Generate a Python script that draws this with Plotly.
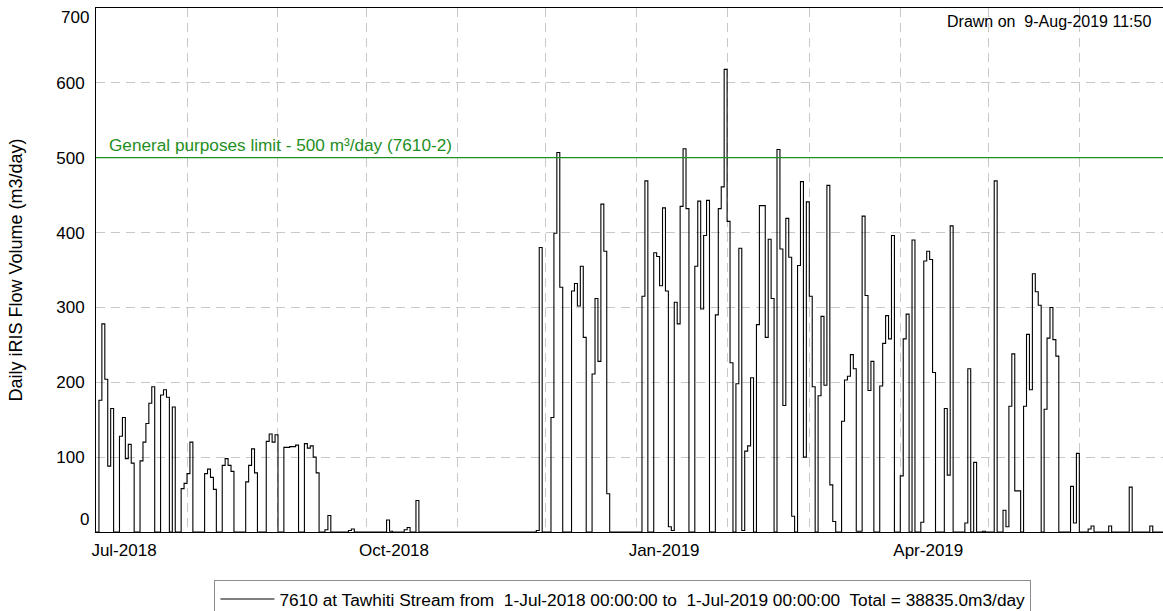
import pandas as pd
import plotly.graph_objects as go

# ---------------- data ----------------
start_date = "2018-07-01"
daily_volume = [
    0, 176, 278, 204, 88, 165, 0, 0, 128, 153,
    98, 117, 92, 0, 0, 95, 120, 145, 172, 194,
    0, 0, 183, 190, 180, 0, 167, 0, 0, 58,
    65, 78, 120, 0, 0, 0, 0, 78, 84, 73,
    57, 0, 0, 89, 98, 89, 81, 0, 0, 0,
    0, 67, 89, 111, 79, 0, 0, 0, 121, 131,
    120, 130, 0, 0, 113, 113, 114, 114, 116, 0,
    0, 118, 112, 115, 100, 79, 0, 0, 3, 22,
    0, 0, 0, 0, 0, 0, 2, 4, 0, 0,
    0, 0, 0, 0, 0, 0, 0, 0, 0, 16,
    1, 0, 0, 0, 0, 3, 6, 0, 0, 42,
    0, 0, 0, 0, 0, 0, 0, 0, 0, 0,
    0, 0, 0, 0, 0, 0, 0, 0, 0, 0,
    0, 0, 0, 0, 0, 0, 0, 0, 0, 0,
    0, 0, 0, 0, 0, 0, 0, 0, 0, 0,
    2, 380, 0, 0, 0, 153, 399, 507, 327, 0,
    0, 0, 322, 332, 302, 355, 260, 0, 0, 211,
    312, 228, 438, 375, 51, 0, 0, 0, 0, 0,
    0, 0, 0, 0, 0, 0, 315, 469, 0, 0,
    373, 368, 329, 433, 322, 7, 2, 307, 278, 435,
    512, 432, 0, 0, 355, 442, 298, 396, 443, 0,
    0, 290, 432, 461, 618, 415, 226, 0, 198, 379,
    2, 108, 115, 206, 0, 277, 436, 436, 260, 391,
    312, 0, 511, 378, 169, 419, 367, 21, 0, 356,
    468, 100, 441, 315, 194, 0, 182, 288, 196, 463,
    63, 14, 0, 0, 148, 203, 208, 237, 218, 1,
    1, 422, 316, 189, 228, 0, 0, 195, 252, 289,
    258, 396, 0, 0, 75, 258, 291, 0, 390, 0,
    0, 13, 362, 375, 364, 213, 0, 0, 0, 165,
    76, 409, 0, 0, 0, 0, 12, 218, 0, 93,
    0, 0, 1, 0, 0, 0, 469, 0, 0, 29,
    7, 168, 238, 55, 55, 0, 168, 264, 190, 345,
    321, 303, 0, 164, 259, 300, 257, 235, 0, 0,
    0, 0, 61, 12, 105, 0, 0, 0, 4, 8,
    0, 0, 0, 0, 0, 8, 0, 0, 0, 0,
    0, 0, 60, 0, 0, 0, 0, 0, 0, 8,
    0, 0, 0, 0, 0,
]
month_starts = ["2018-07-01", "2018-08-01", "2018-09-01", "2018-10-01",
                "2018-11-01", "2018-12-01", "2019-01-01", "2019-02-01",
                "2019-03-01", "2019-04-01", "2019-05-01", "2019-06-01"]
month_labels = ["Jul-2018", "", "", "Oct-2018", "", "", "Jan-2019", "", "",
                "Apr-2019", "", ""]
y_ticks = [0, 100, 200, 300, 400, 500, 600, 700]
limit_value = 500
limit_text = "General purposes limit - 500 m³/day (7610-2)"
series_name = ("7610 at Tawhiti Stream from  1-Jul-2018 00:00:00 to  "
               "1-Jul-2019 00:00:00  Total = 38835.0m3/day")
drawn_text = "Drawn on  9-Aug-2019 11:50"
y_title = "Daily iRIS Flow Volume (m3/day)"

# step series: each day holds its value until the next day
dates = pd.date_range(start_date, periods=len(daily_volume) + 1, freq="D")
step_y = list(daily_volume) + [daily_volume[-1]]

FONT = "Liberation Sans, Arial, sans-serif"
GRID = "#c8c8c8"
GREEN = "#1f8f1f"
TICK_FONT = dict(family=FONT, size=17, color="#000000")

fig = go.Figure()
fig.add_trace(go.Scatter(
    x=dates, y=step_y, mode="lines", line=dict(shape="hv", color="#000000", width=1.1),
    name=series_name, showlegend=True,
))

fig.add_shape(type="line", xref="paper", x0=0, x1=1, yref="y",
              y0=limit_value, y1=limit_value,
              line=dict(color=GREEN, width=1.3), layer="above")
fig.add_annotation(xref="paper", x=0.0105, yref="y", y=limit_value,
                   text=limit_text, showarrow=False, xanchor="left",
                   yanchor="bottom", yshift=1,
                   font=dict(family=FONT, size=17.2, color=GREEN))
fig.add_annotation(xref="paper", x=0.991, yref="paper", y=0.975,
                   text=drawn_text, showarrow=False, xanchor="right",
                   yanchor="middle", font=dict(family=FONT, size=16, color="#000000"))

# end tick labels sit inside the axis span (as in the original chart)
fig.add_annotation(xref="paper", x=0, yref="y", y=y_ticks[0], text=str(y_ticks[0]),
                   showarrow=False, xanchor="right", yanchor="bottom",
                   xshift=-5, yshift=1, font=TICK_FONT)
fig.add_annotation(xref="paper", x=0, yref="y", y=y_ticks[-1], text=str(y_ticks[-1]),
                   showarrow=False, xanchor="right", yanchor="top",
                   xshift=-5, yshift=2, font=TICK_FONT)

fig.update_layout(
    width=1163, height=611, autosize=False,
    margin=dict(l=96, r=0, t=8, b=79, autoexpand=False),
    paper_bgcolor="white", plot_bgcolor="white",
    font=dict(family=FONT, size=16, color="#000000"),
    showlegend=True,
    legend=dict(orientation="h", x=0.111, y=-0.092, xanchor="left", yanchor="top",
                bordercolor="#8c8c8c", borderwidth=1, bgcolor="white",
                font=dict(family=FONT, size=17.3, color="#000000"), itemwidth=54),
    xaxis=dict(
        type="date", automargin=False,
        range=[pd.Timestamp(start_date), pd.Timestamp(start_date) + pd.Timedelta(hours=363.5 * 24)],
        tickmode="array", tickvals=month_starts, ticktext=month_labels,
        ticklabelshift=28, ticklabelstandoff=3, ticks="",
        showgrid=True, gridcolor=GRID, griddash="9px,6px", gridwidth=1,
        showline=True, linecolor="#000000", linewidth=1, mirror=True,
        zeroline=False, tickfont=TICK_FONT,
    ),
    yaxis=dict(
        range=[0, 700], tickmode="array", tickvals=y_ticks[1:-1], automargin=False,
        showgrid=True, gridcolor=GRID, griddash="9px,6px", gridwidth=1,
        showline=True, linecolor="#000000", linewidth=1, mirror=True,
        zeroline=False, ticks="", ticklabelstandoff=7,
        tickfont=TICK_FONT,
        title=dict(text=y_title, standoff=28, font=dict(family=FONT, size=18, color="#000000")),
    ),
)

# the page's default body margin would shift the figure by 8 px
fig.write_html("out.html", config={"displayModeBar": False},
               post_script="document.body.style.margin='0px';")
